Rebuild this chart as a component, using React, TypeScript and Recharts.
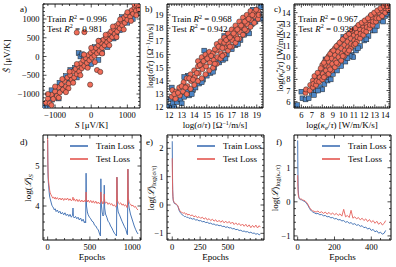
import React from 'react';
import {
  ScatterChart,
  Scatter,
  LineChart,
  Line,
  XAxis,
  YAxis,
  ReferenceArea,
  Legend,
} from 'recharts';

// ---- scatter data: [true, predicted] ----
const aTrain = [
  [-1290, -1320], [-1230, -1290], [-1150, -1050], [-1080, -1150], [-1000, -1080], [-960, -980],
  [-880, -700], [-800, -900], [-700, -520], [-630, -580], [-580, -360], [-520, -690], [-450, -300],
  [-350, 90], [-300, 0], [-250, 60], [-200, -30], [-100, -260], [0, -200], [100, 250], [200, -90],
  [300, 100], [400, 300], [560, 560], [620, 480], [680, 520], [700, 640], [800, 700], [900, 950],
  [1000, 900], [1100, 1150], [1200, 1250], [1300, 1380], [-1200, -1360], [-1100, -900], [-900, -1120],
  [-750, -820], [-400, -560], [250, 420], [450, 250], [850, 1050], [1150, 1000], [1250, 1150],
];
const aTest = [
  [-1250, -1230], [-1200, -1120], [-1150, -1250], [-1100, -1020], [-1050, -1130], [-1000, -930],
  [-950, -1050], [-900, -820], [-870, -960], [-820, -740], [-780, -880], [-740, -650], [-700, -800],
  [-660, -560], [-620, -720], [-580, -500], [-540, -620], [-500, -400], [-470, -560], [-430, -330],
  [-400, -470], [-360, -250], [-330, -400], [-290, -180], [-260, -310], [-220, -100], [-190, -250],
  [-150, -40], [-120, -170], [-80, 40], [-50, -100], [-10, 100], [20, -30], [60, 160], [90, 20],
  [130, 230], [160, 90], [200, 300], [230, 150], [270, 370], [300, 230], [340, 450], [370, 300],
  [410, 520], [440, 380], [480, 600], [510, 450], [550, 670], [580, 520], [620, 740], [650, 600],
  [690, 820], [720, 670], [760, 880], [790, 750], [830, 950], [860, 830], [900, 1030], [930, 900],
  [970, 1100], [1000, 980], [1040, 1170], [1080, 1060], [1120, 1230], [1160, 1140], [1200, 1300],
  [1240, 1220], [1290, 1350], [-400, 640], [-190, 650], [160, -360], [250, -410], [-30, -750],
  [-630, -850], [1320, 1250], [-1200, -1000], [-1100, -1300], [-1000, -800], [-900, -1100],
  [-800, -600], [-700, -950], [-600, -400], [-500, -700], [-400, -200], [-300, -500], [-200, 50],
  [-100, -300], [0, 230], [100, -150], [200, 420], [300, 80], [400, 580], [500, 300], [600, 800],
  [700, 520], [800, 990], [900, 720], [1000, 1180], [1100, 950], [1200, 1380], [1250, 1100],
];
const bTrain = [
  [12.0, 12.1], [12.1, 12.6], [12.3, 12.3], [12.6, 12.4], [12.9, 12.6], [13.2, 12.8], [13.4, 13.2],
  [13.6, 12.9], [13.9, 13.3], [14.1, 13.5], [14.4, 13.8], [14.7, 14.1], [15.0, 14.4], [15.3, 14.6],
  [15.6, 15.0], [16.0, 15.4], [16.3, 15.6], [16.6, 16.0], [17.0, 16.4], [17.3, 16.7], [17.7, 17.1],
  [18.0, 17.5], [18.3, 17.8], [18.6, 18.3], [18.9, 18.5], [19.2, 19.1], [19.3, 19.6], [18.7, 19.4],
  [14.8, 16.3], [16.4, 17.4], [13.5, 14.4], [15.4, 15.9], [12.4, 12.0], [13.0, 12.3], [13.8, 13.0],
  [14.6, 13.9], [15.5, 14.7], [16.5, 15.7], [17.5, 16.8], [18.4, 17.6], [19.3, 18.7], [12.2, 13.5],
  [13.2, 14.3],
];
const bTest = [
  [12.2, 12.8], [12.25, 13.3], [12.5, 12.65], [12.55, 13.2], [12.8, 13.5], [12.85, 12.9], [13.1, 13.2],
  [13.15, 13.9], [13.4, 13.0], [13.4, 14.2], [13.45, 13.6], [13.7, 14.5], [13.7, 13.4], [13.75, 14.0],
  [14.0, 14.8], [14.0, 13.7], [14.05, 14.3], [14.3, 15.1], [14.3, 14.0], [14.35, 14.6], [14.3, 15.5],
  [14.6, 15.3], [14.6, 14.2], [14.65, 14.9], [14.6, 15.8], [14.9, 15.6], [14.9, 14.5], [14.95, 15.1],
  [14.9, 16.0], [15.2, 15.9], [15.2, 14.8], [15.25, 15.4], [15.2, 16.2], [15.5, 16.1], [15.5, 15.0],
  [15.55, 15.6], [15.8, 16.3], [15.8, 15.3], [15.85, 15.8], [15.8, 16.8], [16.1, 16.6], [16.1, 15.7],
  [16.15, 16.1], [16.1, 17.0], [16.4, 16.9], [16.4, 16.0], [16.45, 16.5], [16.4, 17.3], [16.7, 17.2],
  [16.7, 16.3], [16.75, 16.8], [16.7, 17.6], [17.0, 17.4], [17.0, 16.6], [17.05, 17.1], [17.0, 17.9],
  [17.3, 17.8], [17.3, 16.9], [17.35, 17.4], [17.3, 18.2], [17.6, 18.0], [17.6, 17.2], [17.65, 17.7],
  [17.6, 18.5], [17.9, 18.3], [17.9, 17.5], [17.95, 18.0], [17.9, 18.8], [18.2, 18.6], [18.2, 17.8],
  [18.25, 18.3], [18.2, 19.0], [18.5, 18.9], [18.5, 18.1], [18.55, 18.6], [18.5, 19.3], [18.8, 19.2],
  [18.8, 18.4], [18.85, 18.9], [19.1, 19.3], [19.1, 18.7], [19.15, 19.0], [12.4, 13.0], [12.7, 13.1],
  [13.0, 13.6], [13.3, 13.5], [13.6, 14.2], [13.9, 14.1], [14.2, 14.6], [14.45, 15.2], [14.75, 15.5],
  [15.05, 15.7], [15.35, 15.9], [15.65, 16.4], [15.95, 16.6], [16.25, 16.5], [16.55, 17.1],
  [16.85, 17.3], [17.15, 17.6], [17.45, 17.9], [17.75, 18.2], [18.05, 18.5], [18.35, 18.7],
  [18.65, 19.0], [18.95, 19.4], [15.65, 15.3], [16.25, 15.9], [16.85, 16.6], [17.45, 17.2], [18.05, 17.9],
];
const cTrain = [
  [5.6, 5.7], [6.1, 6.3], [6.4, 6.2], [6.0, 6.9], [6.7, 6.3], [7.0, 6.8], [7.4, 7.0], [7.8, 7.3],
  [8.2, 7.6], [8.5, 7.9], [8.0, 7.1], [8.6, 8.2], [9.0, 8.5], [9.4, 8.8], [9.8, 9.2], [10.2, 9.6],
  [10.8, 10.2], [10.95, 10.0], [10.6, 10.1], [11.2, 10.6], [11.6, 11.0], [12.0, 11.5], [12.4, 11.9],
  [12.8, 12.4], [13.2, 12.8], [13.6, 13.3], [14.0, 13.7], [14.3, 14.3], [14.4, 14.5], [9.0, 10.5],
  [10.0, 11.8], [8.3, 9.8], [12.6, 13.6], [7.2, 6.6], [7.6, 7.0], [8.8, 8.0], [10.4, 9.9],
  [11.4, 10.8], [12.2, 11.6], [13.0, 12.4], [13.8, 13.2], [14.2, 13.9],
];
const cTest = [
  [6.4, 6.8], [6.45, 7.1], [6.8, 7.0], [6.85, 7.5], [7.1, 7.3], [7.1, 7.9], [7.15, 7.6], [7.4, 7.5],
  [7.4, 8.2], [7.45, 7.85], [7.7, 7.8], [7.7, 8.6], [7.75, 8.2], [8.0, 8.0], [8.0, 9.0], [8.05, 8.5],
  [8.0, 9.3], [8.3, 8.3], [8.3, 9.3], [8.35, 8.8], [8.3, 9.7], [8.6, 8.5], [8.6, 9.6], [8.65, 9.1],
  [8.6, 10.1], [8.9, 8.8], [8.9, 9.9], [8.95, 9.4], [8.9, 10.5], [9.2, 9.1], [9.2, 10.2], [9.25, 9.7],
  [9.2, 10.8], [9.5, 9.4], [9.5, 10.5], [9.55, 10.0], [9.5, 11.1], [9.8, 9.7], [9.8, 10.8], [9.85, 10.3],
  [9.8, 11.4], [10.1, 10.1], [10.1, 11.1], [10.15, 10.6], [10.1, 11.7], [10.4, 10.4], [10.4, 11.4],
  [10.45, 10.9], [10.4, 12.0], [10.7, 10.8], [10.7, 11.7], [10.75, 11.2], [10.7, 12.2], [11.0, 11.1],
  [11.0, 12.0], [11.05, 11.5], [11.0, 12.4], [11.3, 11.4], [11.3, 12.2], [11.35, 11.8], [11.3, 12.7],
  [11.6, 11.7], [11.6, 12.5], [11.65, 12.1], [11.6, 12.9], [11.9, 12.0], [11.9, 12.8], [11.95, 12.4],
  [11.9, 13.1], [12.2, 12.3], [12.2, 13.0], [12.25, 12.7], [12.5, 12.6], [12.5, 13.3], [12.55, 12.9],
  [12.8, 12.9], [12.8, 13.5], [12.85, 13.2], [13.1, 13.2], [13.1, 13.8], [13.15, 13.5], [13.4, 13.5],
  [13.4, 14.0], [13.7, 13.7], [13.7, 14.2], [14.0, 14.0], [14.0, 14.4], [14.3, 14.3], [7.25, 8.3],
  [7.55, 8.6], [7.85, 9.0], [8.15, 9.5], [8.45, 9.9], [8.75, 10.3], [9.05, 10.6], [9.35, 11.0],
  [9.65, 11.3], [9.95, 11.6], [10.25, 11.9], [10.55, 12.1], [10.85, 12.4], [11.15, 12.6], [11.45, 12.9],
  [11.75, 13.1], [12.05, 13.3], [12.35, 13.5], [12.65, 13.8], [12.95, 14.0], [13.25, 14.2],
  [13.55, 14.4], [13.85, 14.6], [14.15, 14.6], [8.15, 8.2], [8.75, 8.9], [9.35, 9.5], [9.95, 10.1],
  [10.55, 10.6], [11.15, 11.2],
];

// ---- loss curves ----
const epochsD = [
  0, 2, 5, 8, 12, 16, 20, 25, 30, 40, 50, 60, 70, 80, 90, 100, 115, 130, 145, 160,
  175, 190, 205, 220, 235, 250, 265, 280, 295, 300, 305, 315, 330, 345, 360, 375, 390, 405, 420, 435,
  445, 450, 455, 460, 470, 480, 495, 510, 525, 540, 555, 570, 585, 600, 615, 625, 630, 635, 645, 655,
  665, 670, 675, 685, 700, 715, 730, 745, 760, 775, 790, 805, 815, 820, 825, 835, 850, 865, 880, 895,
  910, 925, 940, 945, 950, 955, 965, 980, 995, 1010, 1025, 1040, 1055, 1070,
];
const trainD = [
  5.65, 5.1, 4.75, 4.6, 4.5, 4.4, 4.3, 4.22, 4.18, 4.1, 4.02, 3.98, 3.95, 3.9, 3.93, 3.86, 3.9, 3.83, 3.87, 3.8,
  3.84, 3.78, 3.83, 3.76, 3.8, 3.74, 3.79, 3.72, 3.77, 3.95, 3.74, 3.7, 3.74, 3.68, 3.72, 3.65, 3.7, 3.62, 3.67, 3.58,
  3.62, 3.58, 4.82, 4.0, 3.85, 3.78, 3.72, 3.68, 3.62, 3.6, 3.52, 3.5, 3.44, 3.4, 3.3, 3.25, 4.68, 4.05, 3.85, 3.75,
  3.78, 4.52, 3.95, 3.8, 3.72, 3.62, 3.58, 3.5, 3.45, 3.38, 3.32, 3.28, 3.25, 4.72, 4.0, 3.85, 3.78, 3.7, 3.62, 3.55,
  3.48, 3.42, 3.3, 3.28, 4.92, 4.1, 3.95, 3.8, 3.7, 3.6, 3.5, 3.42, 3.35, 3.3,
];
const testD = [
  5.7, 5.2, 4.85, 4.7, 4.6, 4.52, 4.45, 4.38, 4.33, 4.28, 4.24, 4.2, 4.22, 4.18, 4.22, 4.17, 4.21, 4.16, 4.2, 4.15,
  4.2, 4.14, 4.19, 4.15, 4.2, 4.14, 4.18, 4.13, 4.17, 4.22, 4.14, 4.18, 4.12, 4.17, 4.11, 4.16, 4.1, 4.15, 4.1, 4.14,
  4.1, 4.12, 4.35, 4.15, 4.1, 4.15, 4.09, 4.14, 4.08, 4.13, 4.07, 4.12, 4.06, 4.1, 4.05, 4.08, 4.35, 4.15, 4.1, 4.05,
  4.1, 4.3, 4.12, 4.07, 4.1, 4.04, 4.08, 4.03, 4.06, 4.0, 4.03, 3.98, 4.0, 4.72, 4.15, 4.08, 4.05, 4.08, 4.02, 4.05,
  4.0, 4.03, 3.96, 3.98, 4.92, 4.2, 4.08, 4.05, 4.0, 4.02, 3.97, 3.99, 3.93, 3.9,
];
const epochsE = [
  0, 2, 4, 6, 8, 10, 14, 18, 22, 26, 30, 35, 40, 45, 50, 55, 60, 65, 70, 75,
  80, 90, 100, 110, 120, 130, 140, 150, 165, 180, 195, 210, 225, 240, 255, 270, 285, 300, 315, 330,
  345, 360, 375, 390, 405, 420, 435, 450, 465, 480, 495, 510, 525, 540, 555, 570, 585, 600, 615, 630,
  645, 660, 675, 690, 705, 720, 735, 750, 765, 780, 790,
];
const trainE = [
  2.25, 1.2, 0.55, 0.3, 0.2, 0.15, 0.1, 0.06, 0.05, 0.03, 0.04, 0.02, 0.0, -0.02, -0.05, -0.1, -0.17, -0.22, -0.25, -0.28,
  -0.3, -0.35, -0.37, -0.41, -0.4, -0.44, -0.43, -0.47, -0.46, -0.5, -0.48, -0.53, -0.52, -0.56, -0.55, -0.59, -0.58, -0.62, -0.61, -0.65,
  -0.64, -0.68, -0.67, -0.71, -0.7, -0.73, -0.72, -0.76, -0.75, -0.79, -0.77, -0.81, -0.8, -0.84, -0.83, -0.87, -0.86, -0.9, -0.89, -0.93,
  -0.92, -0.95, -0.94, -0.98, -0.96, -1.0, -0.99, -1.03, -1.01, -1.05, -1.03,
];
const testE = [
  1.65, 0.9, 0.5, 0.32, 0.22, 0.16, 0.12, 0.08, 0.07, 0.05, 0.06, 0.03, 0.02, 0.0, -0.03, -0.08, -0.13, -0.18, -0.21, -0.24,
  -0.25, -0.27, -0.29, -0.27, -0.33, -0.3, -0.36, -0.32, -0.38, -0.35, -0.42, -0.38, -0.45, -0.41, -0.47, -0.43, -0.5, -0.45, -0.53, -0.48,
  -0.55, -0.5, -0.57, -0.52, -0.6, -0.54, -0.61, -0.55, -0.63, -0.57, -0.64, -0.58, -0.66, -0.6, -0.69, -0.63, -0.7, -0.65, -0.73, -0.67,
  -0.75, -0.68, -0.77, -0.7, -0.8, -0.72, -0.79, -0.71, -0.81, -0.73, -0.78,
];
const epochsF = [
  0, 1, 2, 3, 5, 7, 10, 14, 18, 22, 26, 30, 35, 40, 45, 50, 55, 60, 65, 70,
  75, 80, 90, 100, 110, 120, 130, 140, 150, 160, 170, 180, 190, 200, 210, 220, 230, 240, 250, 260,
  270, 280, 290, 300, 310, 320, 330, 340, 350, 360, 370, 380, 390, 400, 410, 420, 430, 440, 450, 460,
  470, 478,
];
const trainF = [
  1.8, 1.0, 0.55, 0.35, 0.2, 0.12, 0.08, 0.07, 0.05, 0.06, 0.04, 0.03, 0.02, 0.0, -0.03, -0.06, -0.1, -0.15, -0.2, -0.24,
  -0.27, -0.29, -0.32, -0.35, -0.34, -0.38, -0.37, -0.41, -0.4, -0.44, -0.43, -0.47, -0.46, -0.5, -0.49, -0.53, -0.52, -0.56, -0.55, -0.6,
  -0.58, -0.63, -0.61, -0.66, -0.64, -0.69, -0.67, -0.72, -0.7, -0.76, -0.74, -0.8, -0.77, -0.84, -0.81, -0.88, -0.85, -0.92, -0.89, -0.95,
  -0.92, -0.84,
];
const testF = [
  0.78, 0.45, 0.3, 0.22, 0.15, 0.12, 0.1, 0.09, 0.07, 0.08, 0.06, 0.05, 0.04, 0.03, 0.0, -0.03, -0.07, -0.12, -0.17, -0.21,
  -0.24, -0.26, -0.28, -0.3, -0.27, -0.32, -0.29, -0.34, -0.3, -0.36, -0.31, -0.37, -0.33, -0.38, -0.34, -0.4, -0.35, -0.42, -0.22, -0.44,
  -0.4, -0.46, -0.25, -0.48, -0.44, -0.5, -0.46, -0.53, -0.48, -0.55, -0.5, -0.58, -0.52, -0.6, -0.55, -0.63, -0.57, -0.66, -0.6, -0.68,
  -0.63, -0.55,
];

// ---- tick labels (major) ----
const aXMajor = [-1000, 0, 1000];
const aYMajor = [-1000, -500, 0, 500, 1000];
const bMajor = [12, 13, 14, 15, 16, 17, 18, 19];
const cMajor = [6, 7, 8, 9, 10, 11, 12, 13, 14];
const dXMajor = [0, 500, 1000];
const dYMajor = [4, 5];
const eXMajor = [0, 250, 500];
const eYMajor = [-1, 0, 1, 2];
const fXMajor = [0, 200, 400];
const fYMajor = [-1, 0, 1];
const lossOrder = ['Train Loss', 'Test Loss'];

const W = 396;
const H = 267;
const FONT = "'Liberation Serif', 'DejaVu Serif', serif";
const BLUE_LINE = '#4a78b8';
const RED_LINE = '#e5605b';
const BLUE_PT = '#4d86c6';
const RED_PT = '#f06c58';

type Box = { l: number; t: number; r: number; b: number };
const BOX: Record<string, Box> = {
  a: { l: 43, t: 4, r: 140, b: 108 },
  b: { l: 167, t: 4, r: 263, b: 108 },
  c: { l: 294, t: 4, r: 390, b: 108 },
  d: { l: 43, t: 135, r: 141, b: 240 },
  e: { l: 167, t: 135, r: 264, b: 240 },
  f: { l: 294, t: 135, r: 391, b: 240 },
};
// axes get 1px of room (a zero-sized axis is not drawn at all)
const marginOf = (box: Box) => ({ left: box.l - 1, top: box.t, right: W - box.r, bottom: H - box.b - 1 });

const steps = (lo: number, hi: number, st: number) => {
  const out: number[] = [];
  for (let v = Math.ceil(lo / st - 1e-9) * st; v <= hi + 1e-9; v += st) out.push(+v.toFixed(4));
  return out;
};
const fmt = (v: number) => (v < 0 ? '\u2212' + Math.abs(v) : String(v));
const isMajor = (v: number, m: number[]) => m.some((k) => Math.abs(k - v) < 1e-6);
const pts = (a: number[][]) => a.map(([x, y]) => ({ x, y }));
const rows = (ep: number[], tr: number[], te: number[]) =>
  ep.map((e, i) => ({ ep: e, train: tr[i], test: te[i] }));

const xTick = (box: Box, majors: number[]) => (p: any) => {
  const v = p.payload.value;
  const mj = isMajor(v, majors);
  const len = mj ? 3.5 : 2;
  return (
    <g>
      <line x1={p.x} x2={p.x} y1={box.b} y2={box.b - len} stroke="#000" strokeWidth={0.7} />
      <line x1={p.x} x2={p.x} y1={box.t} y2={box.t + len} stroke="#000" strokeWidth={0.7} />
      {mj && (
        <text x={p.x} y={box.b + 9.5} textAnchor="middle" fontSize={8.5} fontFamily={FONT} fill="#000">
          {fmt(v)}
        </text>
      )}
    </g>
  );
};
const yTick = (box: Box, majors: number[]) => (p: any) => {
  const v = p.payload.value;
  const mj = isMajor(v, majors);
  const len = mj ? 3.5 : 2;
  return (
    <g>
      <line x1={box.l} x2={box.l + len} y1={p.y} y2={p.y} stroke="#000" strokeWidth={0.7} />
      <line x1={box.r} x2={box.r - len} y1={p.y} y2={p.y} stroke="#000" strokeWidth={0.7} />
      {mj && (
        <text x={box.l - 3.5} y={p.y + 3} textAnchor="end" fontSize={8.5} fontFamily={FONT} fill="#000">
          {fmt(v)}
        </text>
      )}
    </g>
  );
};

const square = (p: any) => (
  <rect x={p.cx - 2.4} y={p.cy - 2.4} width={4.8} height={4.8} fill={BLUE_PT} stroke="#222" strokeWidth={0.5} />
);
const circle = (p: any) => (
  <circle cx={p.cx} cy={p.cy} r={2.6} fill={RED_PT} stroke="#222" strokeWidth={0.5} />
);

const txt = { fontFamily: FONT, fontSize: 9, fill: '#000' };
const xTitle = (box: Box, y: number, body: React.ReactNode) => () => (
  <text x={(box.l + box.r) / 2} y={y} textAnchor="middle" {...txt}>
    {body}
  </text>
);
const yTitle = (x: number, cy: number, body: React.ReactNode) => () => (
  <text transform={`translate(${x},${cy}) rotate(-90)`} textAnchor="middle" {...txt}>
    {body}
  </text>
);
const sub = (s: React.ReactNode) => (
  <tspan fontSize={6.5} dy={2}>
    {s}
  </tspan>
);
const inv = (
  <>
    Ω<tspan fontSize={6} dy={-3.5}>−1</tspan>
    <tspan dy={3.5}>/m/s]</tspan>
  </>
);

type SP = {
  box: Box;
  xDom: number[];
  yDom: number[];
  xMinor: number;
  yMinor: number;
  xMajor: number[];
  yMajor: number[];
  train: number[][];
  test: number[][];
  xLabel: () => React.ReactElement;
  yLabel: () => React.ReactElement;
};

function ScatterPanel({ box, xDom, yDom, xMinor, yMinor, xMajor, yMajor, train, test, xLabel, yLabel }: SP) {
  return (
    <div style={{ position: 'absolute', left: 0, top: 0 }}>
      <ScatterChart width={W} height={H} margin={marginOf(box)}>
        <XAxis
          type="number"
          dataKey="x"
          domain={xDom}
          allowDataOverflow
          ticks={steps(xDom[0], xDom[1], xMinor)}
          interval={0}
          height={1}
          tickSize={0}
          tickMargin={0}
          tickLine={false}
          axisLine={false}
          tick={xTick(box, xMajor)}
          label={xLabel}
        />
        <YAxis
          type="number"
          dataKey="y"
          domain={yDom}
          allowDataOverflow
          ticks={steps(yDom[0], yDom[1], yMinor)}
          interval={0}
          width={1}
          tickSize={0}
          tickMargin={0}
          tickLine={false}
          axisLine={false}
          tick={yTick(box, yMajor)}
          label={yLabel}
        />
        <Scatter name="Train" data={pts(train)} shape={square} isAnimationActive={false} />
        <Scatter name="Test" data={pts(test)} shape={circle} isAnimationActive={false} />
        <ReferenceArea x1={xDom[0]} x2={xDom[1]} y1={yDom[0]} y2={yDom[1]} fill="none" fillOpacity={0} stroke="#000" strokeWidth={1} />
      </ScatterChart>
    </div>
  );
}

const LossLegend = (props: any) => {
  const items = [...(props.payload || [])].sort(
    (p: any, q: any) => lossOrder.indexOf(p.value) - lossOrder.indexOf(q.value),
  );
  return (
    <div style={{ fontFamily: FONT, fontSize: 9, lineHeight: '12.6px', color: '#000' }}>
      {items.map((it: any) => (
        <div key={it.value} style={{ display: 'flex', alignItems: 'center', whiteSpace: 'nowrap' }}>
          <span style={{ display: 'inline-block', width: 18, height: 2, background: it.color, marginRight: 8, opacity: 0.85 }} />
          <span>{it.value}</span>
        </div>
      ))}
    </div>
  );
};

type LP = {
  box: Box;
  xDom: number[];
  yDom: number[];
  xMinor: number;
  yMinor: number;
  xMajor: number[];
  yMajor: number[];
  data: { ep: number; train: number; test: number }[];
  legendX: number;
  yLabel: () => React.ReactElement;
};

function LossPanel({ box, xDom, yDom, xMinor, yMinor, xMajor, yMajor, data, legendX, yLabel }: LP) {
  return (
    <div style={{ position: 'absolute', left: 0, top: 0 }}>
      <LineChart width={W} height={H} data={data} margin={marginOf(box)}>
        <XAxis
          type="number"
          dataKey="ep"
          domain={xDom}
          allowDataOverflow
          ticks={steps(xDom[0], xDom[1], xMinor)}
          interval={0}
          height={1}
          tickSize={0}
          tickMargin={0}
          tickLine={false}
          axisLine={false}
          tick={xTick(box, xMajor)}
          label={xTitle(box, 260, 'Epochs')}
        />
        <YAxis
          type="number"
          domain={yDom}
          allowDataOverflow
          ticks={steps(yDom[0], yDom[1], yMinor)}
          interval={0}
          width={1}
          tickSize={0}
          tickMargin={0}
          tickLine={false}
          axisLine={false}
          tick={yTick(box, yMajor)}
          label={yLabel}
        />
        <Line name="Train Loss" dataKey="train" stroke={BLUE_LINE} strokeWidth={1} dot={false} isAnimationActive={false} />
        <Line name="Test Loss" dataKey="test" stroke={RED_LINE} strokeWidth={1} strokeOpacity={0.9} dot={false} isAnimationActive={false} />
        <ReferenceArea x1={xDom[0]} x2={xDom[1]} y1={yDom[0]} y2={yDom[1]} fill="none" fillOpacity={0} stroke="#000" strokeWidth={1} />
        <Legend
          layout="horizontal"
          align="center"
          verticalAlign="middle"
          content={LossLegend}
          wrapperStyle={{ left: legendX, top: 140, width: 'auto', height: 'auto' }}
        />
      </LineChart>
    </div>
  );
}

const lossY = (x: number, s: React.ReactNode) =>
  yTitle(x, 188, (
    <>
      log(<tspan fontStyle="italic">ℒ</tspan>){sub(s)}
    </>
  ));

export default function App() {
  const A = BOX.a, B = BOX.b, C = BOX.c;
  return (
    <div style={{ position: 'fixed', left: 0, top: 0, width: W, height: H, background: '#fff' }}>
      <ScatterPanel
        box={A}
        xDom={[-1335, 1350]}
        yDom={[-1373, 1400]}
        xMinor={200}
        yMinor={100}
        xMajor={aXMajor}
        yMajor={aYMajor}
        train={aTrain}
        test={aTest}
        xLabel={xTitle(A, 128, <><tspan fontStyle="italic">S</tspan> [μV/K]</>)}
        yLabel={yTitle(10, 56, <><tspan fontStyle="italic">Ŝ</tspan> [μV/K]</>)}
      />
      <ScatterPanel
        box={B}
        xDom={[11.82, 19.5]}
        yDom={[11.95, 19.83]}
        xMinor={0.2}
        yMinor={0.2}
        xMajor={bMajor}
        yMajor={bMajor}
        train={bTrain}
        test={bTest}
        xLabel={xTitle(B, 128, <>log(<tspan fontStyle="italic">σ</tspan>/<tspan fontStyle="italic">τ</tspan>) [{inv}</>)}
        yLabel={yTitle(153, 56, <>log(<tspan fontStyle="italic">σ̂</tspan>/<tspan fontStyle="italic">τ</tspan>) [{inv}</>)}
      />
      <ScatterPanel
        box={C}
        xDom={[5.3, 14.45]}
        yDom={[5.43, 14.78]}
        xMinor={0.2}
        yMinor={0.2}
        xMajor={cMajor}
        yMajor={cMajor}
        train={cTrain}
        test={cTest}
        xLabel={xTitle(C, 128, <>log(<tspan fontStyle="italic">κ</tspan><tspan fontSize={6.5} dy={2}>e</tspan><tspan dy={-2}>/</tspan><tspan fontStyle="italic">τ</tspan>) [W/m/K/s]</>)}
        yLabel={yTitle(283, 56, <>log(<tspan fontStyle="italic">κ̂</tspan><tspan fontSize={6.5} dy={2}>e</tspan><tspan dy={-2}>/</tspan><tspan fontStyle="italic">τ</tspan>) [W/m/K/s]</>)}
      />
      <LossPanel
        box={BOX.d}
        xDom={[-55, 1105]}
        yDom={[3.15, 5.775]}
        xMinor={100}
        yMinor={0.2}
        xMajor={dXMajor}
        yMajor={dYMajor}
        data={rows(epochsD, trainD, testD)}
        legendX={70}
        yLabel={lossY(31, <tspan fontStyle="italic">S</tspan>)}
      />
      <LossPanel
        box={BOX.e}
        xDom={[-47, 823]}
        yDom={[-1.235, 2.47]}
        xMinor={50}
        yMinor={0.2}
        xMajor={eXMajor}
        yMajor={eYMajor}
        data={rows(epochsE, trainE, testE)}
        legendX={197}
        yLabel={lossY(154, <>log(σ/τ)</>)}
      />
      <LossPanel
        box={BOX.f}
        xDom={[-20, 507]}
        yDom={[-1.12, 1.96]}
        xMinor={50}
        yMinor={0.2}
        xMajor={fXMajor}
        yMajor={fYMajor}
        data={rows(epochsF, trainF, testF)}
        legendX={322}
        yLabel={lossY(278, <>log(κₑ/τ)</>)}
      />
      <svg width={W} height={H} style={{ position: 'absolute', left: 0, top: 0, pointerEvents: 'none' }}>
        <g {...txt}>
          <text x={20} y={12}>a)</text>
          <text x={145} y={12}>b)</text>
          <text x={274} y={12}>c)</text>
          <text x={20} y={145}>d)</text>
          <text x={146} y={145}>e)</text>
          <text x={276} y={145}>f)</text>
          <text x={47} y={22}>Train <tspan fontStyle="italic">R</tspan><tspan fontSize={6} dy={-3.5}>2</tspan><tspan dy={3.5}> = 0.996</tspan></text>
          <text x={47} y={31.5}>Test <tspan fontStyle="italic">R</tspan><tspan fontSize={6} dy={-3.5}>2</tspan><tspan dy={3.5}> = 0.981</tspan></text>
          <text x={172} y={22}>Train <tspan fontStyle="italic">R</tspan><tspan fontSize={6} dy={-3.5}>2</tspan><tspan dy={3.5}> = 0.968</tspan></text>
          <text x={172} y={31.5}>Test <tspan fontStyle="italic">R</tspan><tspan fontSize={6} dy={-3.5}>2</tspan><tspan dy={3.5}> = 0.942</tspan></text>
          <text x={298} y={22}>Train <tspan fontStyle="italic">R</tspan><tspan fontSize={6} dy={-3.5}>2</tspan><tspan dy={3.5}> = 0.967</tspan></text>
          <text x={298} y={31.5}>Test <tspan fontStyle="italic">R</tspan><tspan fontSize={6} dy={-3.5}>2</tspan><tspan dy={3.5}> = 0.939</tspan></text>
        </g>
      </svg>
    </div>
  );
}
